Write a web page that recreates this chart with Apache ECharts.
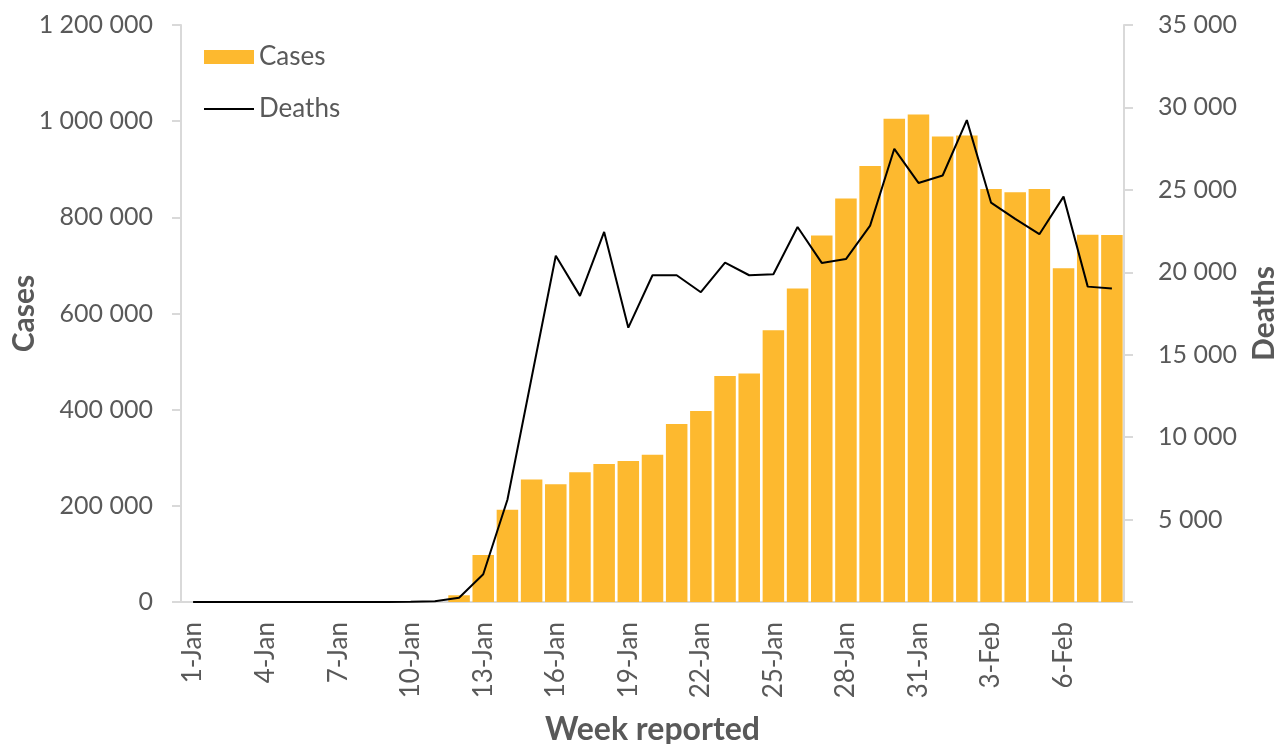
<!DOCTYPE html>
<html>
<head>
<meta charset="utf-8">
<script src="https://cdn.jsdelivr.net/npm/echarts@6/dist/echarts.min.js"></script>
<style>
html,body{margin:0;padding:0;background:#fff;}
#chart{width:1280px;height:744px;}
</style>
</head>
<body>
<div id="chart"></div>
<script>
const categories = ['1-Jan','2-Jan','3-Jan','4-Jan','5-Jan','6-Jan','7-Jan','8-Jan','9-Jan','10-Jan',
  '11-Jan','12-Jan','13-Jan','14-Jan','15-Jan','16-Jan','17-Jan','18-Jan','19-Jan','20-Jan',
  '21-Jan','22-Jan','23-Jan','24-Jan','25-Jan','26-Jan','27-Jan','28-Jan','29-Jan','30-Jan',
  '31-Jan','1-Feb','2-Feb','3-Feb','4-Feb','5-Feb','6-Feb','7-Feb','8-Feb'];
const cases = [0,0,0,0,0,0,0,0,0,0,
  0,14000,98000,192000,255000,245000,270000,287000,293000,306000,
  370000,397000,470000,475000,565000,652000,762000,839000,907000,1005000,
  1014000,968000,970000,859000,852000,859000,694000,764000,763000];
const deaths = [0,0,0,0,0,0,0,0,5,15,
  40,260,1680,6200,13600,21000,18570,22450,16640,19820,
  19820,18790,20590,19820,19880,22750,20570,20800,22830,27490,
  25420,25870,29230,24230,23240,22310,24590,19130,19010];
const casesAxis = {min: 0, max: 1200000, interval: 200000};
const deathsAxis = {min: 0, max: 35000, interval: 5000};

const fmt = v => String(v).replace(/\B(?=(\d{3})+(?!\d))/g, ' ');
const FONT = 'Lato';
const GREY = '#595959';
const LINE = '#D9D9D9';

const chart = echarts.init(document.getElementById('chart'));
chart.setOption({
  animation: false,
  textStyle: {fontFamily: FONT},
  grid: {left: 181, right: 156, top: 25, bottom: 142, containLabel: false, outerBoundsMode: 'none'},
  legend: {
    orient: 'vertical', left: 203, top: 42, padding: 0,
    itemWidth: 50, itemHeight: 14, itemGap: 22,
    textStyle: {fontFamily: FONT, fontSize: 26, color: GREY, lineHeight: 30},
    data: [{name: 'Cases', icon: 'rect'}, {name: 'Deaths', itemStyle: {opacity: 0}}]
  },
  xAxis: {
    type: 'category', data: categories, boundaryGap: true,
    name: 'Week reported', nameLocation: 'middle', nameGap: 112,
    nameTextStyle: {fontFamily: FONT, fontSize: 32, fontWeight: 'bold', color: GREY},
    axisLine: {show: true, lineStyle: {color: LINE, width: 2}},
    axisTick: {show: false},
    axisLabel: {interval: 2, rotate: 90, margin: 20, fontSize: 26, color: GREY, fontFamily: FONT}
  },
  yAxis: [{
    type: 'value', min: casesAxis.min, max: casesAxis.max, interval: casesAxis.interval,
    name: 'Cases', nameLocation: 'middle', nameGap: 142, nameRotate: 90, nameMoveOverlap: false,
    nameTextStyle: {fontFamily: FONT, fontSize: 30, fontWeight: 'bold', color: GREY},
    axisLine: {show: true, lineStyle: {color: LINE, width: 2}},
    axisTick: {show: true, length: 9, lineStyle: {color: LINE, width: 2}},
    splitLine: {show: false},
    axisLabel: {margin: 28, fontSize: 25, color: GREY, fontFamily: FONT, formatter: fmt}
  }, {
    type: 'value', min: deathsAxis.min, max: deathsAxis.max, interval: deathsAxis.interval,
    position: 'right',
    name: 'Deaths', nameLocation: 'middle', nameGap: 125, nameRotate: 90, nameMoveOverlap: false,
    nameTextStyle: {fontFamily: FONT, fontSize: 30, fontWeight: 'bold', color: GREY},
    axisLine: {show: true, lineStyle: {color: LINE, width: 2}},
    axisTick: {show: true, length: 9, lineStyle: {color: LINE, width: 2}},
    splitLine: {show: false},
    axisLabel: {margin: 34, fontSize: 25, color: GREY, fontFamily: FONT,
      formatter: v => v === 0 ? '' : fmt(v)}
  }],
  series: [{
    name: 'Cases', type: 'bar', data: cases, yAxisIndex: 0,
    barCategoryGap: '11%',
    itemStyle: {color: '#FDB92F'}
  }, {
    name: 'Deaths', type: 'line', data: deaths, yAxisIndex: 1,
    symbol: 'none', showSymbol: false,
    lineStyle: {color: '#000000', width: 2},
    itemStyle: {color: '#000000'}
  }]
});
</script>
</body>
</html>
